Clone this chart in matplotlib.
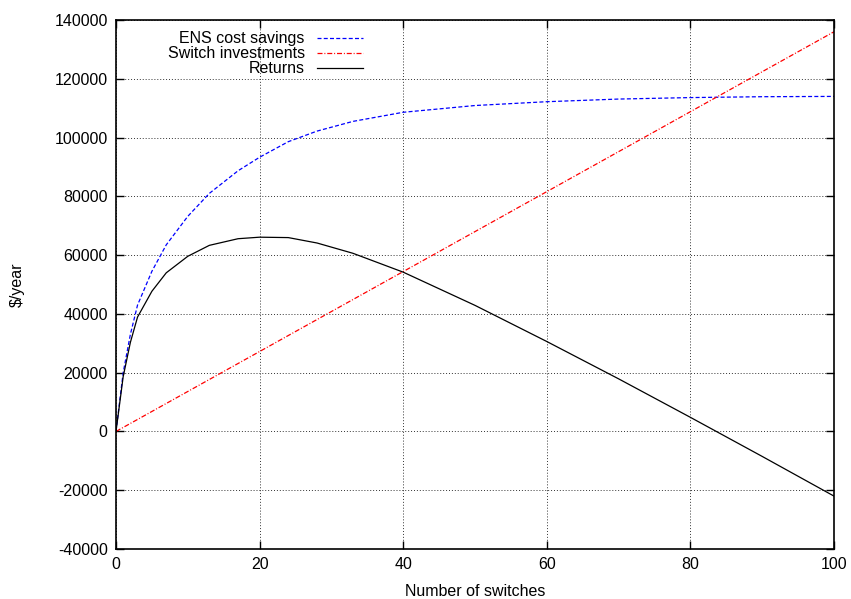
import matplotlib
matplotlib.use("Agg")
import matplotlib.pyplot as plt

switches = [0, 1, 2, 3, 5, 7, 10, 13, 17, 20, 24, 28, 33, 40, 50, 60, 70, 80, 90, 100]
ens_savings = [0, 20000, 33000, 43000, 54500, 63500, 73200, 81000, 88700, 93300,
               98600, 102200, 105500, 108600, 110900, 112200, 113100, 113600, 113900, 114000]
investments = [0, 1360, 2720, 4080, 6800, 9520, 13600, 17680, 23120, 27200,
               32640, 38080, 44880, 54400, 68000, 81600, 95200, 108800, 122400, 136000]
returns = [0, 18640, 30280, 38920, 47700, 53980, 59600, 63320, 65580, 66100,
           65960, 64120, 60620, 54200, 42900, 30600, 17900, 4800, -8500, -22000]

xticks = [0, 20, 40, 60, 80, 100]
yticks = [-40000, -20000, 0, 20000, 40000, 60000, 80000, 100000, 120000, 140000]

plt.rcParams['font.family'] = ['Liberation Sans', 'DejaVu Sans']
plt.rcParams['font.size'] = 11.5

fig = plt.figure(figsize=(8.51, 5.99), dpi=100)
ax = fig.add_axes([116/851, 50/599, 718/851, 529/599])

ax.plot(switches, ens_savings, color='#0000ff', lw=0.9, dashes=(3.2, 1.8), label='ENS cost savings')
ax.plot(switches, investments, color='#ff0000', lw=0.9, dashes=(4, 1.5, 0.8, 1.5), label='Switch investments')
ax.plot(switches, returns, color='black', lw=0.9, label='Returns')

ax.set_xlim(0, 100)
ax.set_ylim(-40000, 140000)
ax.set_xticks(xticks)
ax.set_yticks(yticks)
ax.set_xticklabels([str(v) for v in xticks])
ax.set_yticklabels([str(v) for v in yticks])
ax.tick_params(direction='in', length=6, width=1, top=True, right=True, pad=6)
ax.grid(True, color='#333333', linestyle=(0, (1, 2.0)), lw=0.7)
for s in ax.spines.values():
    s.set_linewidth(1.2)

ax.set_xlabel('Number of switches')
ax.set_ylabel(r'\$/year')
ax.xaxis.set_label_coords(0.5, -0.066)
ax.yaxis.set_label_coords(-0.127, 0.5)

leg = ax.legend(loc='upper right', bbox_to_anchor=(0.344, 0.979), markerfirst=False,
                frameon=False, handlelength=2.9, handletextpad=0.75, labelspacing=0.0,
                borderpad=0, borderaxespad=0)
for t in leg.get_texts():
    t.set_ha('right')

fig.savefig('out.png', dpi=100)
